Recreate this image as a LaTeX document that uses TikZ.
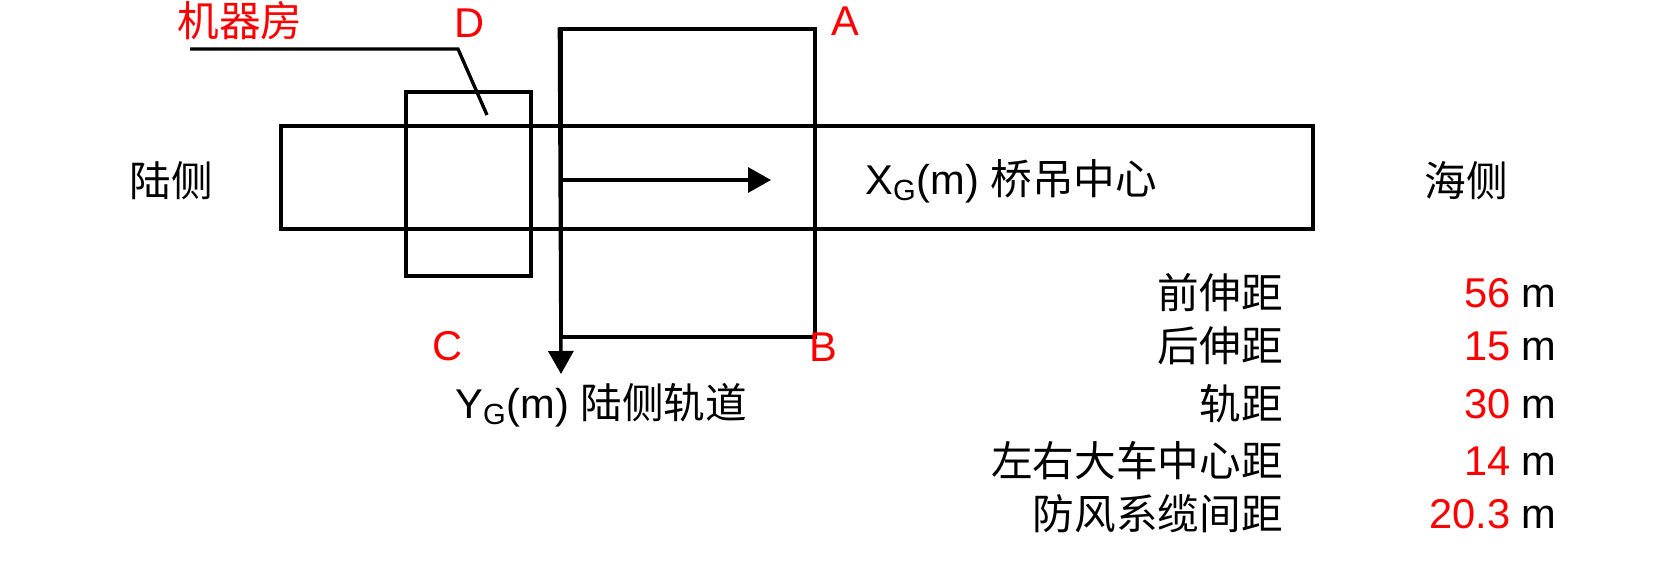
\documentclass[tikz,border=0pt]{standalone}
\usepackage{fontspec}
\setmainfont{Liberation Sans}
\newfontfamily\cjk{Noto Sans CJK SC}
\usepackage{tikz}
\usetikzlibrary{arrows.meta,positioning,calc}
\usepackage{xcolor}
\definecolor{labelred}{RGB}{255,0,0}

\begin{document}
\begin{tikzpicture}[x=0.02cm,y=-0.02cm,
    every node/.style={font=\fontsize{23.7}{28}\selectfont,inner sep=0pt},
    frame/.style={draw,line width=1.9pt},
    arr/.style={line width=1.9pt,-{Triangle[length=0.46cm,width=0.5cm]}}]
        \useasboundingbox (0,0) rectangle (1670,578);
        % boxes
        \node[frame,minimum width=20.64cm,minimum height=2.06cm]
          (beam) at (797,177.5) {};
        \node[frame,minimum width=2.5cm,minimum height=3.68cm]
          (machine) at (468.5,184) {};
        \node[frame,minimum width=5.08cm,minimum height=6.16cm]
          (gantry) at (688,183) {};
        % axes
        \coordinate (xtip) at (771,180);
        \coordinate (ytip) at (561,374);
        \draw[arr] (gantry.west |- xtip) -- (xtip);
        \draw[arr] (gantry.north west) -- (ytip);
        % leader to machine room
        \coordinate (ld1) at (190,49);
        \coordinate (ld2) at (458,49);
        \coordinate (ld3) at (487,115);
        \draw[line width=1.9pt] (ld1) -- (ld2) -- (ld3);
        \node[labelred] (jqf) at (240,21) {\cjk 机器房};
        % corner labels
        \node[labelred] (ptD) at (470,23) {D};
        \node[labelred] (ptA) at (845,21) {A};
        \node[labelred] (ptC) at (448,346) {C};
        \node[labelred] (ptB) at (823,347) {B};
        % sides and axis names
        \node (land) at (171,181) {\cjk 陆侧};
        \node (sea) at (1466,181) {\cjk 海侧};
        \node[anchor=west] (xname) at (865,181) {X\textsubscript{G}(m) {\cjk 桥吊中心}};
        \node[anchor=west] (yname) at (455,405) {Y\textsubscript{G}(m) {\cjk 陆侧轨道}};
        % parameter table
        \node[anchor=east] (p1) at (1283,293) {\cjk 前伸距};
        \node[anchor=east] (p2) at (1283,346) {\cjk 后伸距};
        \node[anchor=east] (p3) at (1283,404) {\cjk 轨距};
        \node[anchor=east] (p4) at (1283,461) {\cjk 左右大车中心距};
        \node[anchor=east] (p5) at (1283,514) {\cjk 防风系缆间距};
        \node[anchor=east] (v1) at (1557,293) {\textcolor{labelred}{56} m};
        \node[anchor=east] (v2) at (1557,346) {\textcolor{labelred}{15} m};
        \node[anchor=east] (v3) at (1557,404) {\textcolor{labelred}{30} m};
        \node[anchor=east] (v4) at (1557,461) {\textcolor{labelred}{14} m};
        \node[anchor=east] (v5) at (1557,514) {\textcolor{labelred}{20.3} m};
      \end{tikzpicture}
\end{document}
